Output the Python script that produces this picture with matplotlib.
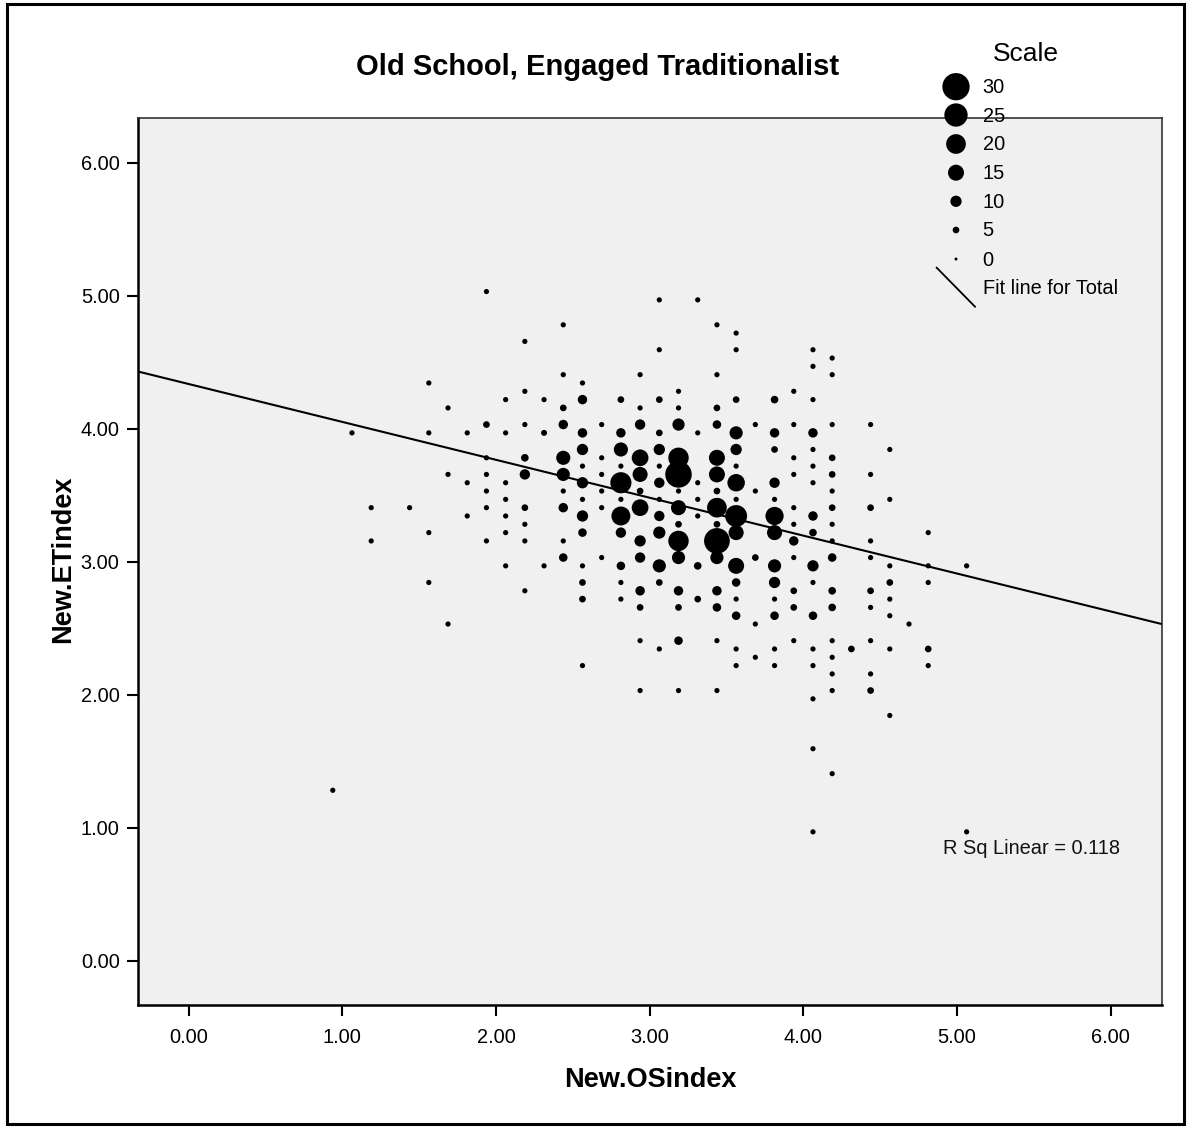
import numpy as np
import matplotlib
matplotlib.use("Agg")
import matplotlib.pyplot as plt
from matplotlib.patches import Rectangle

# ---------------- data ----------------
# One entry per row of New.ETindex value: the New.OSindex values in that row and the case counts
row_et = [5.03125, 4.96875, 4.78125, 4.71875, 4.65625, 4.59375, 4.53125, 4.46875, 4.40625,
          4.34375, 4.28125, 4.21875, 4.15625, 4.03125, 3.96875, 3.84375, 3.78125, 3.71875,
          3.65625, 3.59375, 3.53125, 3.46875, 3.40625, 3.34375, 3.28125, 3.21875, 3.15625,
          3.03125, 2.96875, 2.84375, 2.78125, 2.71875, 2.65625, 2.59375, 2.53125, 2.40625,
          2.34375, 2.28125, 2.21875, 2.15625, 2.03125, 1.96875, 1.84375, 1.59375, 1.40625,
          1.28125, 0.96875]
row_os = [
    [1.9375],
    [3.0625, 3.3125],
    [2.4375, 3.4375],
    [3.5625],
    [2.1875],
    [3.0625, 3.5625, 4.0625],
    [4.1875],
    [4.0625],
    [2.4375, 2.9375, 3.4375, 4.1875],
    [1.5625, 2.5625],
    [2.1875, 3.1875, 3.9375],
    [2.0625, 2.3125, 2.5625, 2.8125, 3.0625, 3.5625, 3.8125, 4.0625],
    [1.6875, 2.4375, 2.9375, 3.1875, 3.4375],
    [1.9375, 2.1875, 2.4375, 2.6875, 2.9375, 3.1875, 3.4375, 3.6875, 3.9375, 4.1875, 4.4375],
    [1.0625, 1.5625, 1.8125, 2.0625, 2.3125, 2.5625, 2.8125, 3.0625, 3.3125, 3.5625, 3.8125, 4.0625],
    [2.5625, 2.8125, 3.0625, 3.5625, 3.8125, 4.0625, 4.5625],
    [1.9375, 2.1875, 2.4375, 2.6875, 2.9375, 3.1875, 3.4375, 3.9375, 4.1875],
    [2.5625, 2.8125, 3.0625, 3.5625, 4.0625],
    [1.6875, 1.9375, 2.1875, 2.4375, 2.6875, 2.9375, 3.1875, 3.4375, 3.9375, 4.1875, 4.4375],
    [1.8125, 2.0625, 2.5625, 2.8125, 3.0625, 3.3125, 3.5625, 3.8125, 4.0625],
    [1.9375, 2.4375, 2.6875, 2.9375, 3.1875, 3.4375, 3.6875, 4.1875],
    [2.0625, 2.5625, 2.8125, 3.0625, 3.3125, 3.5625, 3.8125, 4.5625],
    [1.1875, 1.4375, 1.9375, 2.1875, 2.4375, 2.6875, 2.9375, 3.1875, 3.4375, 3.9375, 4.1875, 4.4375],
    [1.8125, 2.0625, 2.5625, 2.8125, 3.0625, 3.3125, 3.5625, 3.8125, 4.0625],
    [2.1875, 3.1875, 3.4375, 3.9375, 4.1875],
    [1.5625, 2.0625, 2.5625, 2.8125, 3.0625, 3.5625, 3.8125, 4.0625, 4.8125],
    [1.1875, 1.9375, 2.1875, 2.4375, 2.9375, 3.1875, 3.4375, 3.9375, 4.1875, 4.4375],
    [2.4375, 2.6875, 2.9375, 3.1875, 3.4375, 3.6875, 3.9375, 4.1875, 4.4375],
    [2.0625, 2.3125, 2.5625, 2.8125, 3.0625, 3.3125, 3.5625, 3.8125, 4.0625, 4.5625, 4.8125, 5.0625],
    [1.5625, 2.5625, 2.8125, 3.0625, 3.5625, 3.8125, 4.0625, 4.5625, 4.8125],
    [2.1875, 2.9375, 3.1875, 3.4375, 3.9375, 4.1875, 4.4375],
    [2.5625, 2.8125, 3.3125, 3.5625, 3.8125, 4.5625],
    [2.9375, 3.1875, 3.4375, 3.9375, 4.1875, 4.4375],
    [3.5625, 3.8125, 4.0625, 4.5625],
    [1.6875, 3.6875, 4.6875],
    [2.9375, 3.1875, 3.4375, 3.9375, 4.1875, 4.4375],
    [3.0625, 3.5625, 3.8125, 4.0625, 4.3125, 4.5625, 4.8125],
    [3.6875, 4.1875],
    [2.5625, 3.5625, 3.8125, 4.0625, 4.8125],
    [4.1875, 4.4375],
    [2.9375, 3.1875, 3.4375, 4.1875, 4.4375],
    [4.0625],
    [4.5625],
    [4.0625],
    [4.1875],
    [0.9375],
    [4.0625, 5.0625],
]
row_count = [
    [3],
    [3, 3],
    [3, 3],
    [3],
    [3],
    [3, 3, 3],
    [3],
    [3],
    [3, 3, 3, 3],
    [3, 3],
    [3, 3, 3],
    [3, 3, 8, 5, 5, 5, 6, 3],
    [3, 5, 3, 3, 5],
    [5, 3, 8, 3, 9, 11, 7, 3, 3, 3, 3],
    [3, 3, 3, 3, 4, 8, 8, 5, 3, 12, 8, 8],
    [10, 13, 10, 10, 5, 3, 3],
    [3, 6, 13, 3, 16, 21, 15, 3, 5],
    [3, 3, 3, 3, 3],
    [3, 3, 9, 12, 3, 14, 29, 15, 3, 5, 3],
    [3, 3, 10, 22, 9, 3, 17, 9, 3],
    [3, 3, 3, 5, 3, 5, 3, 3],
    [3, 3, 3, 3, 3, 3, 3, 3],
    [3, 3, 3, 5, 8, 3, 16, 14, 20, 3, 5, 5],
    [3, 3, 10, 19, 9, 3, 23, 18, 8],
    [3, 5, 5, 3, 3],
    [3, 3, 7, 9, 11, 14, 14, 6, 3],
    [3, 3, 3, 3, 10, 21, 28, 8, 3, 3],
    [7, 3, 9, 12, 12, 5, 3, 7, 3],
    [3, 3, 3, 7, 12, 6, 15, 12, 10, 3, 3, 3],
    [3, 5, 3, 5, 7, 10, 3, 5, 3],
    [3, 8, 8, 8, 5, 6, 5],
    [5, 3, 5, 3, 3, 3],
    [5, 5, 7, 5, 6, 3],
    [7, 7, 7, 3],
    [3, 3, 3],
    [3, 7, 3, 3, 3, 3],
    [3, 3, 3, 3, 5, 3, 5],
    [3, 3],
    [3, 3, 3, 3, 3],
    [3, 3],
    [3, 3, 3, 3, 5],
    [3],
    [3],
    [3],
    [3],
    [3],
    [3, 3],
]

scale_values = [30, 25, 20, 15, 10, 5, 0]
fit_intercept = 4.336
fit_slope = -0.285
r_sq_linear = 0.118
x_ticks = [0, 1, 2, 3, 4, 5, 6]
y_ticks = [0, 1, 2, 3, 4, 5, 6]

title = "Old School, Engaged Traditionalist"
x_label = "New.OSindex"
y_label = "New.ETindex"

# ---------------- figure ----------------
W, H, DPI = 1188, 1128, 100
plt.rcParams['font.family'] = ['Liberation Sans', 'DejaVu Sans']
fig = plt.figure(figsize=(W / DPI, H / DPI), dpi=DPI)
fig.patch.set_facecolor('white')

L, R, T, B = 137.7, 1161.7, 118.3, 1004.7
ax = fig.add_axes([L / W, 1 - B / H, (R - L) / W, (B - T) / H])
ax.set_facecolor('#f0f0f0')
ax.set_xlim(-0.332, 6.332)
ax.set_ylim(-0.331, 6.334)

# bubble size scale (diameters in pixels for the legend's values)
leg_diam_px = [27.3, 23.3, 19.7, 16.0, 11.3, 6.7, 3.0]


def bubble_size(n):
    d = np.interp(np.asarray(n, dtype=float), scale_values[::-1], leg_diam_px[::-1])
    return (d * 72.0 / DPI) ** 2


xs, ys, ns = [], [], []
for yv, xrow, nrow in zip(row_et, row_os, row_count):
    for xv, nv in zip(xrow, nrow):
        xs.append(xv)
        ys.append(yv)
        ns.append(nv)

ax.scatter(xs, ys, s=bubble_size(ns), c='black', linewidths=0, zorder=3)

xx = np.array(ax.get_xlim())
ax.plot(xx, fit_intercept + fit_slope * xx, color='black', lw=1.5, zorder=4,
        solid_capstyle='butt')

ax.set_xticks(x_ticks)
ax.set_xticklabels([f"{v:.2f}" for v in x_ticks])
ax.set_yticks(y_ticks)
ax.set_yticklabels([f"{v:.2f}" for v in y_ticks])
ax.tick_params(axis='both', direction='out', length=8, width=1.5, labelsize=14.4,
               colors='black')
ax.tick_params(axis='x', pad=9)
ax.tick_params(axis='y', pad=5)
for side in ['left', 'bottom']:
    ax.spines[side].set_linewidth(1.8)
    ax.spines[side].set_color('black')
for side in ['top', 'right']:
    ax.spines[side].set_linewidth(1.2)
    ax.spines[side].set_color('#333333')

ax.text(4.91, 0.84, f"R Sq Linear = {r_sq_linear:.3f}", ha='left', va='center',
        fontsize=14.4, color='#111111', zorder=5)

# ---------------- overlay in pixel coordinates ----------------
ov = fig.add_axes([0, 0, 1, 1])
ov.set_xlim(0, W)
ov.set_ylim(H, 0)
ov.axis('off')
ov.patch.set_alpha(0)

ov.add_patch(Rectangle((7, 4), 1177, 1120, fill=False, lw=2.2, ec='black'))

ov.text(598, 67, title, ha='center', va='center', fontsize=21, fontweight='bold')
ov.text(650, 1080, x_label, ha='center', va='center', fontsize=19.5, fontweight='bold')
ov.text(63, 559, y_label, ha='center', va='center', fontsize=19.5, fontweight='bold',
        rotation=90)

# bubble legend
ov.text(1026, 54, "Scale", ha='center', va='center', fontsize=19)
leg_y = [86.7, 115.0, 144.0, 172.7, 201.3, 230.0, 259.0]
ov.scatter([956] * len(scale_values), leg_y, s=bubble_size(scale_values), c='black',
           linewidths=0, zorder=5)
for v, yy in zip(scale_values, leg_y):
    ov.text(982.7, yy + 1, str(v), ha='left', va='center', fontsize=14.4, zorder=6)
ov.plot([936.7, 975], [267.7, 306.7], color='black', lw=1.3)
ov.text(982.7, 289, "Fit line for Total", ha='left', va='center', fontsize=14.4)

fig.savefig('out.png', dpi=DPI)
